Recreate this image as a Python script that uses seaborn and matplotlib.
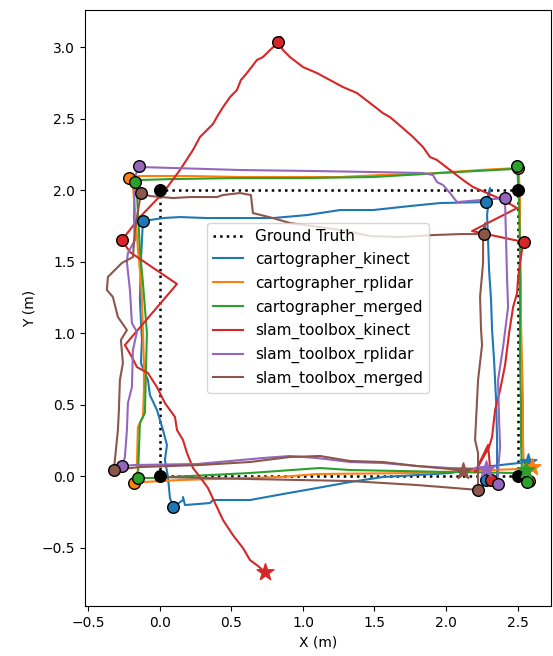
import matplotlib
matplotlib.use("Agg")
import matplotlib.pyplot as plt
import seaborn as sns

# ---------------- data ----------------
gt_x = [2.5, 0.0, 0.0, 2.5, 2.5]
gt_y = [0.0, 0.0, 2.0, 2.0, 0.0]
gt_corners = [1, 2, 3, 4]

ck_x = [2.280, 2.357, 2.357, 2.350, 2.336, 2.322, 2.315, 2.301, 2.294, 2.287, 2.308, 2.280,
        1.958, 1.748, 1.490, 1.259, 1.028, 0.790, 0.559, 0.329, 0.140, 0.021, -0.119,
        -0.133, -0.140, -0.126, -0.133, -0.084, -0.070, -0.021, 0.021, 0.049, 0.035, 0.056, 0.070, 0.091,
        0.161, 0.161, 0.175, 0.350, 0.371, 0.629, 0.860, 1.098, 1.329, 1.559, 1.797, 2.028, 2.259, 2.573]
ck_y = [-0.028, -0.014, 0.252, 0.531, 0.811, 1.021, 1.231, 1.441, 1.650, 1.825, 2.014, 1.916,
        1.909, 1.888, 1.860, 1.860, 1.825, 1.804, 1.804, 1.804, 1.811, 1.804, 1.783,
        1.510, 1.231, 0.951, 0.790, 0.671, 0.566, 0.462, 0.322, 0.217, 0.112, -0.007, -0.154, -0.217,
        -0.168, -0.147, -0.203, -0.189, -0.168, -0.168, -0.126, -0.084, -0.042, -0.007, 0.007, 0.021, 0.063, 0.098]
ck_corners = [0, 11, 22, 35]

cr_x = [2.580, 2.545, 2.538, 2.538, 2.531, 2.524, 2.524, 2.517, 2.517, 2.510, 2.503,
        2.238, 1.839, 1.538, 1.259, 0.909, 0.559, 0.210, -0.140, -0.217,
        -0.189, -0.168, -0.154, -0.133, -0.126, -0.119, -0.112, -0.112, -0.119, -0.154, -0.161, -0.154, -0.182,
        -0.119, 0.140, 0.839, 1.098, 1.797, 2.497, 2.601]
cr_y = [-0.035, 0.028, 0.252, 0.531, 0.811, 1.091, 1.371, 1.650, 1.930, 2.105, 2.154,
        2.140, 2.112, 2.105, 2.091, 2.091, 2.091, 2.098, 2.098, 2.084,
        2.021, 1.790, 1.580, 1.371, 1.231, 1.021, 0.790, 0.601, 0.413, 0.343, 0.091, 0.042, -0.049,
        -0.042, -0.028, -0.007, 0.014, 0.021, 0.049, 0.063]
cr_corners = [0, 10, 19, 32]

cm_x = [2.566, 2.531, 2.524, 2.524, 2.517, 2.517, 2.517, 2.510, 2.503, 2.497,
        2.469, 1.958, 1.490, 1.028, 0.559, 0.091, -0.140, -0.175,
        -0.161, -0.140, -0.119, -0.091, -0.098, -0.105, -0.140, -0.147, -0.154,
        -0.070, 0.629, 1.119, 1.329, 2.028, 2.497, 2.559]
cm_y = [-0.042, 0.014, 0.252, 0.531, 0.811, 1.231, 1.580, 1.930, 2.070, 2.168,
        2.147, 2.119, 2.091, 2.084, 2.084, 2.077, 2.070, 2.056,
        1.979, 1.580, 1.350, 1.000, 0.741, 0.441, 0.371, 0.182, -0.014,
        -0.014, 0.021, 0.056, 0.042, 0.028, 0.021, 0.042]
cm_corners = [0, 9, 17, 26]

sk_x = [0.734, 0.685, 0.629, 0.580, 0.510, 0.441, 0.385, 0.336, 0.280, 0.231, 0.189, 0.161, 0.119,
        0.105, 0.035, -0.021, -0.084, -0.161, -0.196, -0.245, 0.119, -0.210, -0.266,
        -0.140, 0.021, 0.140, 0.231, 0.280, 0.329, 0.371, 0.406, 0.441, 0.490, 0.538, 0.566, 0.608,
        0.678, 0.720, 0.769, 0.804, 0.846, 0.825,
        0.860, 0.909, 1.000, 1.098, 1.189, 1.280, 1.378, 1.469, 1.559, 1.608, 1.657, 1.769, 1.839,
        1.888, 1.937, 2.028, 2.119, 2.189, 2.287, 2.399, 2.497, 2.182, 2.545,
        2.531, 2.517, 2.503, 2.497, 2.469, 2.441, 2.413, 2.378, 2.343, 2.322, 2.301, 2.203, 2.294,
        2.308, 2.315]
sk_y = [-0.671, -0.629, -0.587, -0.503, -0.413, -0.308, -0.189, -0.084, -0.007, 0.056, 0.161, 0.252,
        0.322, 0.413, 0.510, 0.622, 0.720, 0.762, 0.832, 0.916, 1.343, 1.566, 1.650,
        1.811, 1.979, 2.140, 2.280, 2.371, 2.420, 2.462, 2.524, 2.580, 2.650, 2.699, 2.769, 2.818,
        2.909, 2.930, 2.979, 3.010, 3.070, 3.035,
        2.979, 2.930, 2.860, 2.818, 2.769, 2.720, 2.678, 2.608, 2.538, 2.510, 2.469, 2.371, 2.301,
        2.231, 2.210, 2.140, 2.070, 2.021, 1.979, 1.930, 1.874, 1.713, 1.636,
        1.580, 1.490, 1.371, 1.280, 1.182, 1.000, 0.776, 0.601, 0.462, 0.273, 0.203, 0.028, 0.217,
        0.056, -0.028]
sk_corners = [22, 41, 64, 79]

sr_x = [2.364, 2.364, 2.378, 2.371, 2.364, 2.399, 2.434, 2.427, 2.420, 2.413, 2.413,
        2.077, 2.028, 1.979, 1.937, 1.909, 1.839, 1.490, 1.070, 0.559, 0.329, 0.091, -0.140, -0.147,
        -0.175, -0.182, -0.175, -0.224, -0.231, -0.210, -0.196, -0.161, -0.189, -0.196, -0.224, -0.231,
        -0.245, -0.266,
        -0.175, 0.259, 0.490, 0.720, 0.909, 1.098, 1.329, 1.559, 1.797, 2.028, 2.280]
sr_y = [-0.056, 0.042, 0.203, 0.392, 0.671, 0.902, 1.182, 1.371, 1.650, 1.909, 1.944,
        1.916, 1.979, 2.035, 2.056, 2.105, 2.119, 2.126, 2.133, 2.140, 2.147, 2.154, 2.161, 2.168,
        2.091, 1.811, 1.650, 1.559, 1.497, 1.301, 1.070, 1.007, 0.881, 0.622, 0.510, 0.322,
        0.133, 0.070,
        0.077, 0.084, 0.105, 0.126, 0.140, 0.126, 0.098, 0.091, 0.070, 0.056, 0.049]
sr_corners = [0, 10, 23, 37]

sm_x = [0.000, 0.629, 1.329, 1.797, 2.147,
        2.224, 2.224, 2.224, 2.203, 2.210, 2.224, 2.252, 2.245, 2.238, 2.259, 2.259, 2.273, 2.266,
        2.098, 1.909, 1.678, 1.469, 1.308, 1.119, 0.909, 0.790, 0.650, 0.636, 0.559, 0.441, 0.399,
        0.210, 0.091, -0.070, -0.133,
        -0.175, -0.189, -0.266, -0.315, -0.364, -0.371, -0.329, -0.294, -0.231, -0.273, -0.259, -0.280,
        -0.287, -0.294, -0.308, -0.322,
        -0.140, 0.280, 0.629, 0.909, 1.119, 1.329, 1.559, 1.797, 2.028, 2.119]
sm_y = [-0.007, -0.021, -0.035, -0.063, -0.091,
        -0.098, 0.042, 0.161, 0.252, 0.392, 0.671, 0.916, 1.021, 1.252, 1.490, 1.650, 1.769, 1.692,
        1.692, 1.685, 1.671, 1.678, 1.713, 1.741, 1.769, 1.804, 1.839, 1.965, 1.979, 1.965, 1.951,
        1.951, 1.944, 1.958, 1.979,
        1.720, 1.531, 1.490, 1.441, 1.392, 1.301, 1.252, 1.112, 1.021, 0.951, 0.790, 0.671,
        0.462, 0.322, 0.182, 0.042,
        0.063, 0.077, 0.098, 0.133, 0.140, 0.105, 0.098, 0.070, 0.049, 0.035]
sm_corners = [5, 17, 34, 50]

labels = ["cartographer_kinect", "cartographer_rplidar", "cartographer_merged",
          "slam_toolbox_kinect", "slam_toolbox_rplidar", "slam_toolbox_merged"]
series = [(ck_x, ck_y, ck_corners, -1), (cr_x, cr_y, cr_corners, -1), (cm_x, cm_y, cm_corners, -1),
          (sk_x, sk_y, sk_corners, 0), (sr_x, sr_y, sr_corners, -1), (sm_x, sm_y, sm_corners, -1)]
colors = sns.color_palette("tab10", 6)

# ---------------- plot ----------------
fig = plt.figure(figsize=(5.53, 6.56), dpi=100)
ax = fig.add_axes([85 / 553, 50 / 656, 466 / 553, 596 / 656])

sns.lineplot(x=gt_x, y=gt_y, sort=False, estimator=None, color="black", linestyle=":",
             linewidth=1.8, label="Ground Truth", ax=ax)
ax.scatter([gt_x[i] for i in gt_corners], [gt_y[i] for i in gt_corners], s=70, color="black",
           zorder=3)

for (xs, ys, corners, star), lab, col in zip(series, labels, colors):
    sns.lineplot(x=xs, y=ys, sort=False, estimator=None, color=col, linewidth=1.5,
                 label=lab, ax=ax)
    ax.scatter([xs[i] for i in corners], [ys[i] for i in corners], s=70, color=col,
               edgecolor="black", linewidth=1.0, zorder=3)
    ax.scatter([xs[star]], [ys[star]], s=160, marker="*", color=col, zorder=3)

ax.set_xlim(-0.524, 2.734)
ax.set_ylim(-0.909, 3.259)
ax.set_xticks([-0.5, 0.0, 0.5, 1.0, 1.5, 2.0, 2.5])
ax.set_yticks([-0.5, 0.0, 0.5, 1.0, 1.5, 2.0, 2.5, 3.0])
ax.set_xlabel("X (m)")
ax.set_ylabel("Y (m)")
ax.legend(loc="center", fontsize=11)

fig.savefig("out.png", dpi=100)
